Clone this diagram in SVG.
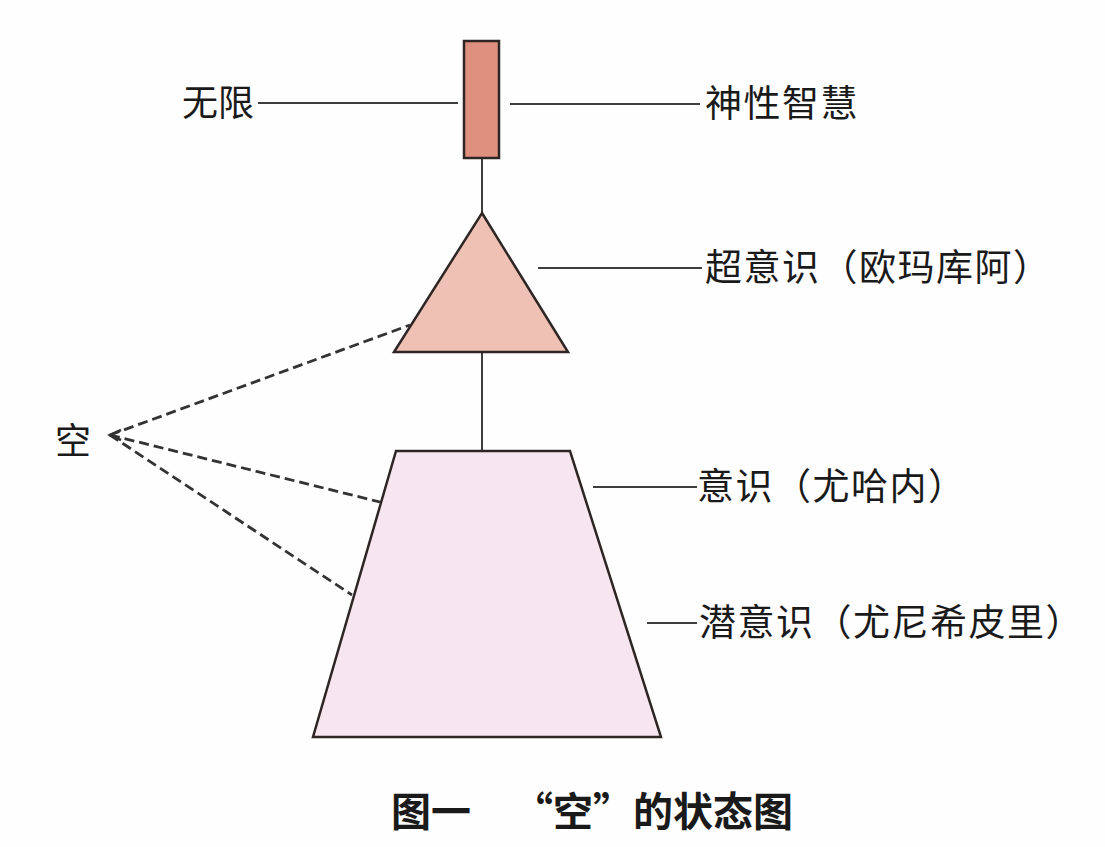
<svg xmlns="http://www.w3.org/2000/svg" width="1105" height="847" viewBox="0 0 1105 847">
<defs>
<style>
.lbl{font-family:"Noto Sans CJK SC","Noto Sans CJK JP",sans-serif;font-size:36px;fill:#1a1a1a;}
.rl{font-size:37px;letter-spacing:1.5px;}
.cap{font-family:"Noto Sans CJK SC",sans-serif;font-size:40px;font-weight:bold;fill:#1a1a1a;}
.ln{stroke:#3d3d3d;stroke-width:2;fill:none;}
.dash{stroke:#333333;stroke-width:2.8;fill:none;stroke-dasharray:10 5;}
.shape{stroke:#2e2624;stroke-width:2.5;stroke-linejoin:miter;}
</style>
</defs>
<rect width="1105" height="847" fill="#fefefe"/>
<g id="connectors">
<line class="ln" x1="482" y1="158" x2="482" y2="213"/>
<line class="ln" x1="482" y1="352" x2="482" y2="451"/>
<line class="ln" x1="258" y1="103" x2="458" y2="103"/>
<line class="ln" x1="510" y1="104" x2="700" y2="104"/>
<line class="ln" x1="538" y1="268" x2="702" y2="268"/>
<line class="ln" x1="593" y1="487" x2="697" y2="487"/>
<line class="ln" x1="647" y1="623" x2="697" y2="623"/>
<line class="dash" x1="110" y1="435" x2="410" y2="325"/>
<line class="dash" x1="110" y1="435" x2="380" y2="502"/>
<line class="dash" x1="110" y1="435" x2="352" y2="595"/>
<path d="M121,430 L110,435 L121,440" stroke="#333333" stroke-width="2.5" fill="none"/>
</g>
<g id="node-wuxian">
<rect class="shape" x="464" y="41" width="35" height="117" fill="#e0907e"/>
</g>
<g id="node-chaoyishi">
<polygon class="shape" points="482,213 568,352 394,352" fill="#efc1b4"/>
</g>
<g id="node-yishi">
<polygon class="shape" points="396,451 570,451 661,737 313,737" fill="#f7e6ef"/>
</g>
<g id="labels">
<text class="lbl" x="182" y="116">无限</text>
<text class="lbl rl" x="705" y="117">神性智慧</text>
<text class="lbl rl" x="705" y="281">超意识（欧玛库阿）</text>
<text class="lbl rl" x="697" y="500">意识（尤哈内）</text>
<text class="lbl rl" x="699" y="636">潜意识（尤尼希皮里）</text>
<text class="lbl" x="55" y="454">空</text>
</g>
<g id="caption">
<text class="cap" y="826"><tspan x="391">图一</tspan><tspan x="513">“空”的状态图</tspan></text>
</g>
</svg>
